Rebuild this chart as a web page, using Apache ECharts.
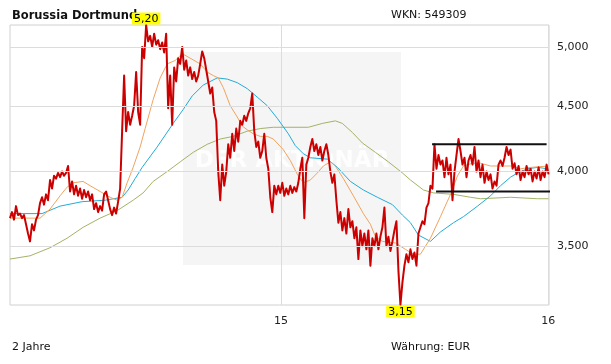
<!DOCTYPE html>
<html><head><meta charset="utf-8">
<script src="https://cdn.jsdelivr.net/npm/echarts@6/dist/echarts.min.js"></script>
<style>html,body{margin:0;padding:0;background:#fff}#c{width:611px;height:364px}</style>
</head><body><div id="c"></div>
<script>
// Time axis in days relative to 2015-01-01; price sampled on an even grid
const startDay = -370, stepDays = 2.734;
const yearTicks = [0, 365];
const yearLabels = ['15', '16'];
const priceTicks = [3.5, 4.0, 4.5, 5.0];

const price = [
3.68,3.72,3.67,3.76,3.70,3.71,3.68,3.70,3.64,3.58,
3.53,3.64,3.60,3.67,3.70,3.78,3.82,3.77,3.84,3.80,
3.94,3.88,3.97,3.95,3.99,3.96,4.00,3.97,3.99,4.04,
3.86,3.93,3.84,3.90,3.83,3.88,3.81,3.87,3.82,3.86,
3.80,3.84,3.74,3.78,3.72,3.76,3.73,3.84,3.86,3.80,
3.74,3.70,3.75,3.71,3.79,3.88,4.30,4.75,4.30,4.45,
4.35,4.42,4.50,4.78,4.45,4.35,5.00,4.90,5.20,5.05,
5.10,5.00,5.12,5.02,5.06,4.98,5.04,4.95,5.12,4.48,
4.75,4.35,4.82,4.70,4.90,4.85,5.00,4.80,4.88,4.75,
4.82,4.72,4.78,4.70,4.75,4.85,4.96,4.90,4.80,4.70,
4.60,4.65,4.45,4.38,4.00,3.80,4.05,3.90,4.00,4.20,
4.10,4.28,4.15,4.32,4.22,4.38,4.35,4.42,4.38,4.44,
4.48,4.60,4.30,4.18,4.22,4.10,4.15,4.28,4.10,4.02,
3.82,3.72,3.90,3.84,3.90,3.85,3.92,3.83,3.88,3.84,
3.90,3.85,3.89,3.86,3.92,4.02,4.10,3.68,4.05,4.10,
4.18,4.24,4.15,4.20,4.12,4.18,4.08,4.15,4.20,4.12,
4.00,3.92,3.98,3.80,3.65,3.72,3.60,3.68,3.58,3.74,
3.62,3.66,3.55,3.62,3.42,3.60,3.50,3.58,3.48,3.60,
3.38,3.55,3.50,3.58,3.48,3.56,3.62,3.75,3.50,3.56,
3.47,3.53,3.60,3.66,3.35,3.15,3.28,3.38,3.45,3.40,
3.48,3.42,3.46,3.38,3.58,3.62,3.66,3.64,3.75,3.78,
3.90,3.88,4.20,4.02,4.12,4.05,4.08,3.96,4.10,3.98,
4.05,3.80,4.00,4.12,4.24,4.15,4.05,4.10,3.96,4.08,
4.12,4.05,4.18,4.00,4.08,3.96,4.05,3.92,4.00,3.94,
3.98,3.88,3.93,3.90,4.05,4.08,4.04,4.10,4.18,4.12,
4.16,4.02,4.06,3.98,4.04,3.94,4.00,3.96,4.04,3.98,
4.02,3.93,4.00,3.95,4.03,3.94,4.00,3.96,4.05,3.98
];

// moving averages: [sample index, value]
const ma38 = [
[0,3.68],[15,3.68],[20,3.74],[25,3.83],[28.5,3.89],[31.5,3.92],[36.5,3.93],[40,3.90],[45,3.86],[50,3.82],
[53.5,3.80],[56,3.82],[58.5,3.92],[61.5,4.03],[65,4.18],[67.5,4.32],[71.5,4.55],[75,4.73],[78.5,4.85],[82.5,4.88],
[86,4.94],[90,4.90],[95,4.85],[98.5,4.78],[101.5,4.75],[104,4.73],[106.5,4.65],[110,4.50],[113.5,4.41],[116,4.34],
[118.5,4.31],[121.5,4.28],[125,4.26],[128.5,4.26],[131.5,4.24],[136.5,4.16],[140,4.08],[143.5,3.98],[146.5,3.92],[150,3.94],
[153.5,3.99],[156.5,4.04],[160,4.07],[162.5,4.04],[166.5,3.95],[171.5,3.83],[176.5,3.71],[180,3.64],[182.5,3.56],[186,3.53],
[192.5,3.52],[197.5,3.48],[201.5,3.45],[205,3.45],[210,3.55],[215,3.69],[220,3.84],[223.5,3.97],[226.5,4.04],[231,4.06],
[235,4.06],[240,4.04],[245,4.04],[250,4.04],[255,4.02],[260,4.03],[269,4.04]
];
const ma100 = [
[0,3.71],[16,3.71],[25,3.76],[36,3.79],[47.5,3.80],[56,3.82],[59,3.87],[62.5,3.95],[66,4.03],[73.5,4.18],
[81.5,4.36],[86.5,4.47],[91,4.58],[96.5,4.67],[103.5,4.73],[108.5,4.72],[113.5,4.69],[118.5,4.64],[123.5,4.57],[128.5,4.50],
[133.5,4.40],[139,4.28],[142.5,4.19],[146.5,4.13],[150,4.10],[158.5,4.09],[163.5,4.03],[170,3.93],[176.5,3.87],[183.5,3.82],
[191,3.77],[196,3.70],[200,3.65],[204,3.57],[210,3.53],[215,3.59],[221.5,3.65],[226.5,3.69],[233.5,3.76],[240,3.83],
[245,3.90],[250,3.96],[253.5,3.99],[258.5,4.02],[263.5,4.03],[268.5,4.02]
];
const ma200 = [
[0,3.42],[10,3.44],[20,3.49],[28.5,3.55],[36.5,3.62],[45,3.68],[53.5,3.73],[61.5,3.80],[66.5,3.85],[71.5,3.93],
[78.5,4.00],[85,4.07],[91.5,4.14],[98.5,4.20],[105,4.24],[111.5,4.26],[118.5,4.30],[125,4.32],[131.5,4.33],[149,4.33],
[156,4.36],[162.5,4.38],[166,4.36],[171,4.29],[176,4.21],[182.5,4.14],[189,4.07],[196,3.99],[200,3.94],[206.5,3.87],
[211.5,3.85],[221.5,3.84],[230,3.82],[235,3.81],[250,3.82],[263.5,3.81],[269,3.81]
];
// trend lines: [from index, to index, level]
const levels = [[210.8, 268, 4.20], [212.8, 269.7, 3.86]];

const toDay = i => startDay + i * stepDays;
const FONT = 'DejaVu Sans';
const comma = (v, d) => v.toFixed(d).replace('.', ',');

const chart = echarts.init(document.getElementById('c'), null, {renderer: 'canvas'});
const lineBase = {type: 'line', showSymbol: false, symbol: 'none', animation: false, silent: true};

const series = [
  Object.assign({}, lineBase, {
    name: 'grid', data: [], z: 1,
    markLine: {
      silent: true, symbol: 'none', animation: false,
      lineStyle: {color: '#dcdcdc', type: 'solid', width: 1},
      label: {position: 'end', distance: 8, color: '#222', fontFamily: FONT, fontSize: 11,
        formatter: p => comma(p.value, 3)},
      data: priceTicks.map(v => ({yAxis: v}))
    }
  }),
  Object.assign({}, lineBase, {name: 'MA200', data: ma200.map(p => [toDay(p[0]), p[1]]), lineStyle: {color: '#a3b366', width: 1}, z: 3}),
  Object.assign({}, lineBase, {name: 'MA100', data: ma100.map(p => [toDay(p[0]), p[1]]), lineStyle: {color: '#22acd8', width: 1}, z: 3}),
  Object.assign({}, lineBase, {name: 'MA38', data: ma38.map(p => [toDay(p[0]), p[1]]), lineStyle: {color: '#f2a35e', width: 1}, z: 3}),
  Object.assign({}, lineBase, {
    name: 'Kurs', data: price.map((v, i) => [toDay(i), v]), lineStyle: {color: '#cc0000', width: 2, join: 'round'}, z: 4,
    markPoint: {
      z: 20,
      symbol: 'rect', symbolSize: 1, itemStyle: {color: 'rgba(0,0,0,0)'}, animation: false,
      label: {show: true, formatter: p => comma(p.value, 2), backgroundColor: '#ffff00', color: '#000',
        fontFamily: FONT, fontSize: 11, padding: [1, 2, 0, 2], distance: 0},
      data: [{type: 'max', label: {position: 'top'}}, {type: 'min', label: {position: 'bottom'}}]
    }
  })
];
levels.forEach(l => series.push(Object.assign({}, lineBase, {
  name: 'level', data: [[toDay(l[0]), l[2]], [toDay(l[1]), l[2]]], lineStyle: {color: '#111', width: 2}, z: 5
})));

chart.setOption({
  animation: false,
  backgroundColor: '#fff',
  title: {text: 'Borussia Dortmund', left: 7, top: 5,
    textStyle: {fontFamily: FONT, fontSize: 11.5, fontWeight: 'bold', color: '#111'}},
  grid: {left: 10, right: 62, top: 25, bottom: 59, show: true, borderColor: '#d0d0d0', borderWidth: 1, backgroundColor: 'transparent'},
  xAxis: {
    type: 'value', min: startDay, max: 366,
    axisLine: {show: false},
    axisTick: {show: false, customValues: yearTicks},
    splitLine: {show: true, lineStyle: {color: '#dcdcdc'}},
    axisLabel: {customValues: yearTicks, margin: 11, color: '#222', fontFamily: FONT, fontSize: 11,
      formatter: v => yearLabels[yearTicks.indexOf(v)] || ''}
  },
  yAxis: {
    type: 'log', min: 3.15, max: 5.2, position: 'right',
    axisLine: {show: false}, axisTick: {show: false}, axisLabel: {show: false}, splitLine: {show: false}
  },
  graphic: {elements: [
    {type: 'rect', z: -10, shape: {x: 183, y: 52, width: 218, height: 213}, style: {fill: '#f5f5f5'}},
    {type: 'text', z: -9, x: 292, y: 161, style: {text: 'DER AKTIONÄR', fill: 'rgba(255,255,255,0.85)', font: 'bold 23px "DejaVu Sans"', textAlign: 'center', textVerticalAlign: 'middle'}},
    {type: 'text', x: 391, y: 15, style: {text: 'WKN: 549309', fill: '#111', font: '11px "DejaVu Sans"', textVerticalAlign: 'middle'}},
    {type: 'text', x: 12, y: 347, style: {text: '2 Jahre', fill: '#111', font: '11px "DejaVu Sans"', textVerticalAlign: 'middle'}},
    {type: 'text', x: 391, y: 347, style: {text: 'Währung: EUR', fill: '#111', font: '11px "DejaVu Sans"', textVerticalAlign: 'middle'}}
  ]},
  series: series
});
</script></body></html>
